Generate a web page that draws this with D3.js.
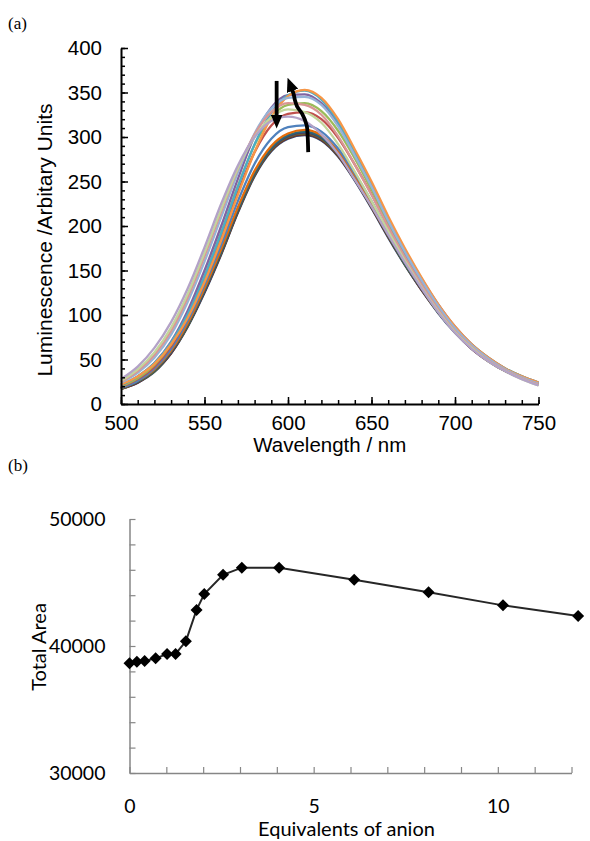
<!DOCTYPE html>
<html>
<head>
    <meta charset='utf-8'>
    <title>Luminescence titration</title>
    <script src='https://cdn.jsdelivr.net/npm/d3@7/dist/d3.min.js'></script>
    <style>
        body { margin: 0; background: #fff; }
    </style>
</head>
<body>
    <svg width='590' height='841'></svg>
    <script>
        // (a) emission spectra, one per addition
        const wavelengths = [500, 510, 520, 530, 540, 550, 560, 570, 580, 590, 600, 610, 620,
            630, 640, 650, 660, 670, 680, 690, 700, 710, 720, 730, 740, 750]
        const spectra = [
            [17, 24, 36, 57, 87, 125, 168, 215, 256, 284, 298, 302, 296, 278, 251, 220, 187, 156, 128, 102, 80, 62, 48, 37, 29, 22],
            [17, 24, 37, 57, 88, 126, 169, 216, 257, 285, 299, 303, 297, 279, 252, 221, 188, 157, 128, 103, 81, 62, 48, 37, 29, 22],
            [17, 25, 37, 58, 88, 127, 170, 217, 258, 286, 300, 304, 298, 280, 253, 222, 189, 157, 129, 103, 81, 63, 49, 38, 29, 22],
            [18, 25, 38, 58, 89, 127, 171, 218, 259, 287, 301, 305, 299, 281, 254, 223, 190, 158, 129, 104, 81, 63, 49, 38, 29, 22],
            [18, 25, 38, 59, 90, 128, 172, 219, 260, 288, 302, 306, 300, 282, 255, 224, 190, 158, 130, 104, 82, 63, 49, 38, 30, 23],
            [18, 26, 39, 60, 91, 130, 174, 221, 262, 290, 304, 308, 302, 284, 257, 225, 192, 160, 131, 105, 82, 64, 50, 38, 30, 23],
            [18, 26, 40, 62, 94, 134, 179, 228, 270, 298, 311, 313, 306, 287, 259, 228, 194, 162, 133, 106, 83, 64, 50, 39, 30, 23],
            [19, 28, 42, 65, 98, 140, 188, 238, 283, 313, 326, 328, 320, 299, 269, 236, 200, 167, 137, 109, 85, 66, 51, 39, 30, 23],
            [20, 29, 44, 67, 101, 144, 193, 245, 291, 322, 336, 338, 329, 307, 276, 241, 204, 170, 139, 111, 86, 67, 52, 40, 31, 23],
            [21, 31, 46, 70, 105, 150, 200, 253, 301, 333, 347, 348, 338, 315, 282, 246, 208, 173, 141, 112, 87, 67, 52, 40, 31, 24],
            [22, 31, 46, 69, 101, 143, 192, 244, 292, 327, 347, 352, 342, 317, 282, 245, 206, 170, 138, 109, 85, 66, 51, 40, 31, 24],
            [22, 31, 45, 67, 97, 137, 184, 235, 283, 322, 346, 353, 344, 320, 286, 250, 211, 175, 142, 112, 87, 67, 52, 40, 31, 24],
            [24, 35, 52, 78, 115, 160, 210, 260, 304, 332, 344, 345, 336, 312, 279, 244, 206, 171, 139, 110, 85, 66, 51, 39, 30, 23],
            [25, 37, 55, 82, 120, 166, 216, 264, 303, 328, 338, 336, 325, 301, 269, 235, 199, 165, 134, 106, 82, 64, 49, 38, 29, 22],
            [26, 39, 58, 86, 124, 170, 219, 265, 300, 322, 331, 328, 316, 292, 261, 228, 194, 161, 131, 104, 81, 63, 48, 37, 28, 21],
            [28, 42, 63, 92, 130, 176, 225, 268, 300, 318, 323, 318, 303, 281, 252, 222, 190, 159, 130, 103, 80, 62, 48, 37, 28, 21]
        ]
        const seriesColors = ['#2C4D75', '#772C2A', '#5F7530', '#4D3B62', '#276A7C', '#E46C0A',
            '#4F81BD', '#C0504D', '#9BBB59', '#8064A2', '#4BACC6', '#F79646',
            '#95B3D7', '#D99694', '#C3D69B', '#B3A2C7']
        // arrows drawn on the spectra, in data units [nm, intensity]
        const arrowDown = [[593.2, 363], [593.2, 323]]
        const arrowUp = [[612.1, 283], [611.8, 300], [611.2, 313], [608.5, 326], [605.5, 334], [604.2, 341], [603.4, 348], [602.3, 354]]

        // (b) integrated emission vs. added anion
        const equivalents = [0, 0.2, 0.41, 0.71, 1.02, 1.25, 1.53, 1.82, 2.03, 2.54, 3.05, 4.06, 6.1, 8.12, 10.14, 12.18]
        const totalArea = [38640, 38760, 38820, 39030, 39370, 39370, 40370, 42840, 44090, 45610, 46170, 46170, 45220, 44230, 43200, 42360]

        const svg = d3.select('svg')
        svg.append('rect').attr('width', 590).attr('height', 841).attr('fill', '#fff')

        // ---------- panel (a) ----------
        const a = { left: 121, right: 538.5, top: 48, bottom: 404 }
        const xA = d3.scaleLinear().domain([500, 750]).range([a.left, a.right])
        const yA = d3.scaleLinear().domain([0, 400]).range([a.bottom, a.top])
        const sans = 'Liberation Sans, Arial, sans-serif'

        const gA = svg.append('g')

        const line = d3.line()
            .x((d, i) => xA(wavelengths[i]))
            .y(d => yA(d))
            .curve(d3.curveMonotoneX)

        gA.selectAll('path.spec').data(spectra).enter()
            .append('path')
            .attr('class', 'spec')
            .attr('d', d => line(d))
            .attr('fill', 'none')
            .attr('stroke', (d, i) => seriesColors[i])
            .attr('stroke-width', 2.3)

        // minor ticks (drawn first, no labels)
        gA.append('g')
            .attr('transform', `translate(${a.left},0)`)
            .call(d3.axisLeft(yA).tickValues(d3.range(0, 401, 10)).tickSize(-4).tickFormat(''))
            .call(g => g.select('.domain').remove())
        gA.append('g')
            .attr('transform', `translate(0,${a.bottom})`)
            .call(d3.axisBottom(xA).tickValues(d3.range(500, 751, 10)).tickSize(-4).tickFormat(''))
            .call(g => g.select('.domain').remove())

        gA.append('g')
            .attr('transform', `translate(${a.left},0)`)
            .call(d3.axisLeft(yA).tickValues(d3.range(0, 401, 50)).tickSizeInner(-7).tickSizeOuter(0).tickPadding(19))
        gA.append('g')
            .attr('transform', `translate(0,${a.bottom})`)
            .call(d3.axisBottom(xA).tickValues(d3.range(500, 751, 50)).tickSizeInner(-7).tickSizeOuter(0).tickPadding(11))

        gA.selectAll('.tick line').attr('stroke', '#000').attr('stroke-width', 1.5)
        gA.selectAll('.domain').attr('stroke', '#000').attr('stroke-width', 2)
        gA.selectAll('.tick text').attr('font-family', sans).attr('font-size', 20.5).attr('fill', '#000')

        gA.append('text')
            .attr('transform', `translate(52,${(a.top + a.bottom) / 2 + 14}) rotate(-90)`)
            .attr('text-anchor', 'middle')
            .attr('font-family', sans).attr('font-size', 21)
            .text('Luminescence /Arbitary Units')
        gA.append('text')
            .attr('x', (a.left + a.right) / 2).attr('y', 452)
            .attr('text-anchor', 'middle')
            .attr('font-family', sans).attr('font-size', 20.5)
            .text('Wavelength / nm')

        // arrow heads
        const defs = svg.append('defs')
        defs.append('marker')
            .attr('id', 'head')
            .attr('markerUnits', 'userSpaceOnUse')
            .attr('viewBox', '0 0 14 12')
            .attr('markerWidth', 14).attr('markerHeight', 12)
            .attr('refX', 2).attr('refY', 6)
            .attr('orient', 'auto')
            .append('path').attr('d', 'M0,0 L14,6 L0,12 Z').attr('fill', '#000')

        const arrowLine = d3.line().x(d => xA(d[0])).y(d => yA(d[1]))
        gA.append('path')
            .attr('d', arrowLine(arrowDown))
            .attr('fill', 'none').attr('stroke', '#000').attr('stroke-width', 3.8)
            .attr('marker-end', 'url(#head)')
        gA.append('path')
            .attr('d', arrowLine.curve(d3.curveCatmullRom)(arrowUp))
            .attr('fill', 'none').attr('stroke', '#000').attr('stroke-width', 3.8)
            .attr('marker-end', 'url(#head)')

        svg.append('text').attr('x', 8).attr('y', 29)
            .attr('font-family', 'Liberation Serif, Times New Roman, serif').attr('font-size', 17)
            .text('(a)')

        // ---------- panel (b) ----------
        const b = { left: 129.5, right: 571.5, top: 519, bottom: 773 }
        const xB = d3.scaleLinear().domain([0, 12]).range([b.left, b.right])
        const yB = d3.scaleLinear().domain([30000, 50000]).range([b.bottom, b.top])
        const calib = 'Lato, Open Sans, sans-serif'
        const axisGrey = '#868686'

        const gB = svg.append('g')

        gB.append('g')
            .attr('transform', `translate(${b.left},0)`)
            .call(d3.axisLeft(yB).tickValues(d3.range(30000, 50001, 2000)).tickSizeInner(-6).tickSizeOuter(0).tickPadding(24)
                .tickFormat(d => d % 10000 === 0 ? d : ''))
        gB.append('g')
            .attr('transform', `translate(0,${b.bottom})`)
            .call(d3.axisBottom(xB).tickValues(d3.range(0, 13, 1)).tickSizeInner(-6).tickSizeOuter(0).tickPadding(26)
                .tickFormat(d => d % 5 === 0 ? d : ''))

        gB.selectAll('.domain').attr('stroke', axisGrey).attr('stroke-width', 1.5)
        gB.selectAll('.tick line').attr('stroke', axisGrey).attr('stroke-width', 1.2)
        gB.selectAll('.tick text').attr('font-family', calib).attr('font-size', 19.5).attr('fill', '#000')

        const points = equivalents.map((e, i) => ({ x: e, y: totalArea[i] }))
        gB.append('path')
            .datum(points)
            .attr('d', d3.line().x(d => xB(d.x)).y(d => yB(d.y)))
            .attr('fill', 'none').attr('stroke', '#262626').attr('stroke-width', 2)

        gB.selectAll('path.marker').data(points).enter()
            .append('path')
            .attr('class', 'marker')
            .attr('transform', d => `translate(${xB(d.x)},${yB(d.y)}) rotate(45)`)
            .attr('d', d3.symbol().type(d3.symbolSquare).size(72))
            .attr('fill', '#000')

        gB.append('text')
            .attr('transform', `translate(46,${(b.top + b.bottom) / 2 + 1}) rotate(-90)`)
            .attr('text-anchor', 'middle')
            .attr('font-family', calib).attr('font-size', 20)
            .text('Total Area')
        gB.append('text')
            .attr('x', (b.left + b.right) / 2 - 4).attr('y', 836)
            .attr('text-anchor', 'middle')
            .attr('font-family', calib).attr('font-size', 20)
            .text('Equivalents of anion')

        svg.append('text').attr('x', 8).attr('y', 471)
            .attr('font-family', 'Liberation Serif, Times New Roman, serif').attr('font-size', 17)
            .text('(b)')
    </script>
</body>
</html>
